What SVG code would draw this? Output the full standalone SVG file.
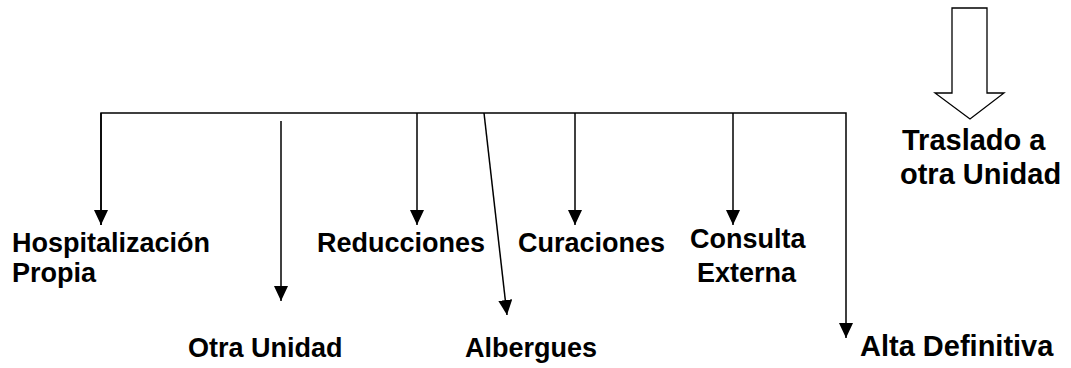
<svg xmlns="http://www.w3.org/2000/svg" width="1071" height="368" viewBox="0 0 1071 368">
<style>
.lbl{font-family:"Liberation Sans",Arial,sans-serif;font-weight:bold;font-size:27px;fill:#000}
.big{font-size:29px}
.con{stroke:#000;stroke-width:1.5;fill:none}
</style>
<defs>
<marker id="ah" viewBox="0 0 15 14" refX="15" refY="7" markerWidth="15" markerHeight="14" markerUnits="userSpaceOnUse" orient="auto">
<path d="M0,0 L15,7 L0,14 Z" fill="#000"/>
</marker>
</defs>
<rect width="1071" height="368" fill="#fff"/>
<g id="connectors">
<polyline class="con" points="101,225 101,113 846,113 846,338" marker-end="url(#ah)"/>
<line class="con" x1="101" y1="113" x2="101" y2="225" marker-end="url(#ah)"/>
<line class="con" x1="281" y1="121" x2="281" y2="301" marker-end="url(#ah)"/>
<line class="con" x1="417" y1="113" x2="417" y2="225" marker-end="url(#ah)"/>
<line class="con" x1="484" y1="113" x2="507" y2="315" marker-end="url(#ah)"/>
<line class="con" x1="575" y1="113" x2="575" y2="225" marker-end="url(#ah)"/>
<line class="con" x1="733" y1="113" x2="733" y2="225" marker-end="url(#ah)"/>
</g>
<g id="traslado-arrow">
<path d="M952,8 L987,8 L987,93 L1004,93 L970,119 L935,93 L952,93 Z" fill="#fff" stroke="#000" stroke-width="1.3"/>
</g>
<g id="node-hospitalizacion"><text class="lbl" x="12" y="252">Hospitalización</text><text class="lbl" x="12" y="282">Propia</text></g>
<g id="node-otra-unidad"><text class="lbl" x="188" y="357">Otra Unidad</text></g>
<g id="node-reducciones"><text class="lbl" x="317" y="252">Reducciones</text></g>
<g id="node-albergues"><text class="lbl" x="465" y="357">Albergues</text></g>
<g id="node-curaciones"><text class="lbl" x="518" y="252">Curaciones</text></g>
<g id="node-consulta"><text class="lbl" x="690" y="248">Consulta</text><text class="lbl" x="697" y="282">Externa</text></g>
<g id="node-alta"><text class="lbl big" x="860" y="356">Alta Definitiva</text></g>
<g id="node-traslado"><text class="lbl big" x="902" y="150">Traslado a</text><text class="lbl big" x="900" y="184">otra Unidad</text></g>
</svg>
